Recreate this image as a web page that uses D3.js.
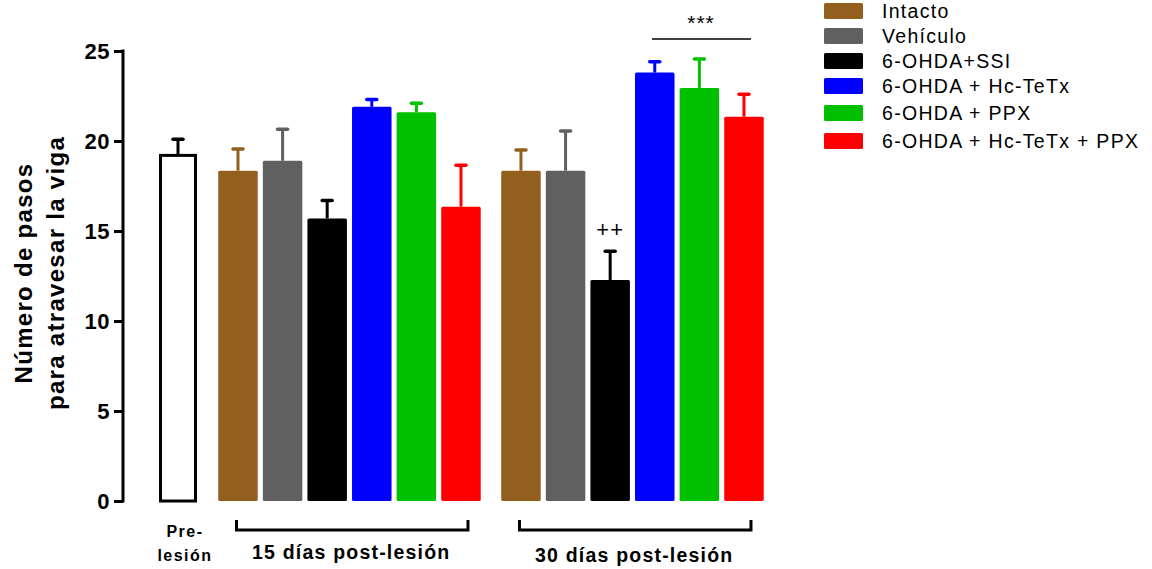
<!DOCTYPE html>
<html>
<head>
<meta charset="utf-8">
<script src="https://cdn.jsdelivr.net/npm/d3@7"></script>
<style>
  body { margin: 0; background: #fff; }
  text { font-family: Arial, "Liberation Sans", sans-serif; }
</style>
</head>
<body>
<svg id="chart" width="1152" height="569"></svg>
<script>
// data
const groups = ["Intacto", "Vehículo", "6-OHDA+SSI", "6-OHDA + Hc-TeTx", "6-OHDA + PPX", "6-OHDA + Hc-TeTx + PPX"]
const colors = ["#935f1f", "#606060", "#000000", "#0000ff", "#00c000", "#ff0000"]
const preMean = 19.2
const preErr = 0.9
const mean15 = [18.35, 18.9, 15.7, 21.9, 21.6, 16.35]
const err15 = [1.2, 1.75, 1.0, 0.4, 0.5, 2.3]
const mean30 = [18.35, 18.35, 12.28, 23.8, 22.95, 21.35]
const err30 = [1.15, 2.2, 1.6, 0.6, 1.6, 1.25]
const periodLabels = ["15 días post-lesión", "30 días post-lesión"]
const yTicks = [0, 5, 10, 15, 20, 25]

const svg = d3.select("#chart")
const y = d3.scaleLinear().domain([0, 25]).range([501, 51])

// slots: pre-lesion at 0, then two groups of 6 with a wider gap between blocks
const gap = 1.345
const x = d3.scaleLinear().domain([0, 1]).range([178, 222.6])
const barW = 39.5

const bars = []
mean15.forEach((v, i) => bars.push({ slot: gap + i, v: v, e: err15[i], c: colors[i] }))
mean30.forEach((v, i) => bars.push({ slot: 2 * gap + 5 + i, v: v, e: err30[i], c: colors[i] }))

// error bars (behind bars)
const errG = svg.append("g")
bars.forEach(d => {
  const cx = x(d.slot)
  errG.append("line").attr("x1", cx).attr("x2", cx)
    .attr("y1", y(d.v)).attr("y2", y(d.v + d.e))
    .attr("stroke", d.c).attr("stroke-width", 3)
  errG.append("line").attr("x1", cx - 5).attr("x2", cx + 5)
    .attr("y1", y(d.v + d.e)).attr("y2", y(d.v + d.e))
    .attr("stroke", d.c).attr("stroke-width", 3.5).attr("stroke-linecap", "round")
})

svg.append("g").selectAll("rect")
  .data(bars)
  .enter()
  .append("rect")
  .attr("x", d => x(d.slot) - barW / 2)
  .attr("width", barW)
  .attr("y", d => y(d.v))
  .attr("height", d => y(0) - y(d.v))
  .attr("rx", 1.5)
  .attr("fill", d => d.c)

// pre-lesion bar (open)
const px = x(0)
svg.append("line").attr("x1", px).attr("x2", px)
  .attr("y1", y(preMean)).attr("y2", y(preMean + preErr))
  .attr("stroke", "#000").attr("stroke-width", 3)
svg.append("line").attr("x1", px - 5).attr("x2", px + 5)
  .attr("y1", y(preMean + preErr)).attr("y2", y(preMean + preErr))
  .attr("stroke", "#000").attr("stroke-width", 3.5).attr("stroke-linecap", "round")
svg.append("rect")
  .attr("x", px - 17.5).attr("width", 35)
  .attr("y", y(preMean)).attr("height", y(0) - y(preMean))
  .attr("fill", "#fff").attr("stroke", "#000").attr("stroke-width", 3)

// y axis
const yAxis = svg.append("g")
  .attr("transform", "translate(123,0)")
  .call(d3.axisLeft(y).tickValues(yTicks).tickSize(9).tickPadding(4))
yAxis.select(".domain").attr("stroke-width", 3).attr("d", "M0," + (y(0) + 1.5) + "V" + (y(25) - 1.5))
yAxis.selectAll(".tick line").attr("stroke-width", 3)
yAxis.selectAll(".tick text")
  .style("font-size", "22px").style("font-weight", "bold")
  .style("letter-spacing", "0.5px")
  .style("font-family", "Arial, 'Liberation Sans', sans-serif")
  .attr("fill", "#000")

const yTitle = svg.append("text")
  .attr("transform", "translate(0,273) rotate(-90)")
  .attr("text-anchor", "middle")
  .style("font-size", "24px").style("font-weight", "bold")
  .style("letter-spacing", "1.3px")
yTitle.append("tspan").attr("x", 0).attr("y", 32).text("Número de pasos")
yTitle.append("tspan").attr("x", 0).attr("y", 64).text("para atravesar la viga")

// x labels
const pre = svg.append("text").attr("text-anchor", "middle")
  .style("font-size", "16px").style("font-weight", "bold")
  .style("letter-spacing", "1.5px")
pre.append("tspan").attr("x", 185).attr("y", 537).text("Pre-")
pre.append("tspan").attr("x", 185).attr("y", 561).text("lesión")

periodLabels.forEach((lab, k) => {
  const s0 = (k + 1) * gap + k * 5
  const x0 = x(s0) - 1.5, x1 = x(s0 + 5) + 7
  svg.append("path")
    .attr("d", `M${x0},520V530H${x1}V520`)
    .attr("fill", "none").attr("stroke", "#000").attr("stroke-width", 3)
  svg.append("text")
    .attr("x", (x0 + x1) / 2 - 1).attr("y", 559 + k * 3)
    .attr("text-anchor", "middle")
    .style("font-size", "19.5px").style("font-weight", "bold")
    .style("letter-spacing", "1.2px")
    .text(lab)
})

// significance marks
const bl = x(2 * gap + 5 + 2)
svg.append("text").attr("x", bl).attr("y", y(mean30[2] + err30[2]) - 14)
  .attr("text-anchor", "middle").style("font-size", "22px")
  .style("letter-spacing", "1px").text("++")
svg.append("line").attr("x1", 652).attr("x2", 751).attr("y1", 39).attr("y2", 39)
  .attr("stroke", "#000").attr("stroke-width", 1.5)
svg.append("text").attr("x", 701).attr("y", 30)
  .attr("text-anchor", "middle").style("font-size", "21px")
  .style("letter-spacing", "1px").text("***")

// legend
const legY = [11, 36, 61, 86, 113, 141]
const leg = svg.append("g")
groups.forEach((g, i) => {
  leg.append("rect").attr("x", 824).attr("y", legY[i] - 8).attr("width", 39).attr("height", 16)
    .attr("rx", 1.5).attr("fill", colors[i])
  leg.append("text").attr("x", 882).attr("y", legY[i] + 7)
    .style("font-size", "19.5px").style("letter-spacing", "1.3px").text(g)
})
</script>
</body>
</html>
